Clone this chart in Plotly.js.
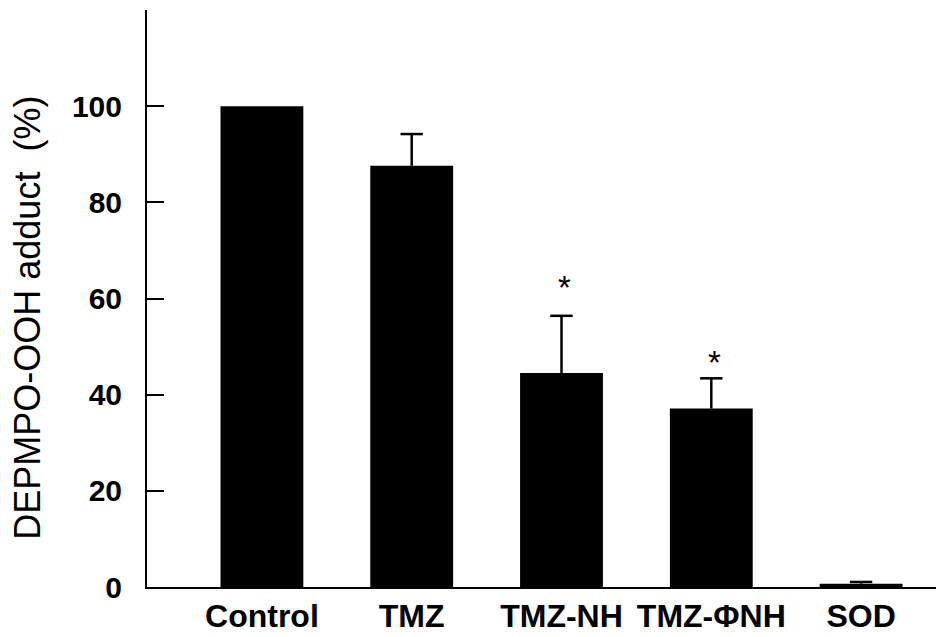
<!DOCTYPE html>
<html>
<head>
<meta charset="utf-8">
<script src="https://cdn.plot.ly/plotly-3.0.1.min.js"></script>
<style>html,body{margin:0;padding:0;background:#fff;}#chart{width:936px;height:637px;}</style>
</head>
<body>
<div id="chart"></div>
<script>
const categories = ['Control', 'TMZ', 'TMZ-NH', 'TMZ-\u03A6NH', 'SOD'];
const values = [100, 87.6, 44.5, 37.1, 0.7];
const errors = [NaN, 6.6, 11.9, 6.3, 0.35];
const yTicks = [0, 20, 40, 60, 80, 100];
const significance = [
  {category: 'TMZ-NH', y: 62.2, text: '*'},
  {category: 'TMZ-\u03A6NH', y: 46.6, text: '*'}
];
const yTitle = 'DEPMPO-OOH adduct\u00A0\u00A0(%)';

const FONT = '"Liberation Sans", Arial, Helvetica, sans-serif';

const barTrace = {
  type: 'bar',
  x: categories,
  y: values,
  width: 0.553,
  marker: {color: '#000000', line: {width: 0}},
  error_y: {
    type: 'data',
    symmetric: false,
    array: errors,
    arrayminus: errors.map(() => 0),
    color: '#000000',
    thickness: 2.5,
    width: 0
  },
  hoverinfo: 'skip'
};

// caps of the error bars, placed at value + error through the y axis
const capTrace = {
  type: 'scatter',
  mode: 'markers',
  x: categories,
  y: values.map((v, i) => v + errors[i]),
  marker: {symbol: 'line-ew-open', size: 16, color: '#000', line: {color: '#000', width: 2.5}},
  hoverinfo: 'skip',
  cliponaxis: false
};

const annotations = significance.map(s => ({
  x: s.category, y: s.y, xref: 'x', yref: 'y',
  text: s.text, showarrow: false, xshift: 3,
  font: {family: FONT, size: 33, color: '#000'},
  xanchor: 'center', yanchor: 'middle'
}));
annotations.push({
  xref: 'paper', yref: 'paper', x: 0, y: 0.4667, xshift: -119,
  text: yTitle, showarrow: false, textangle: -90,
  font: {family: FONT, size: 36, color: '#000'},
  xanchor: 'center', yanchor: 'middle'
});

const layout = {
  width: 936, height: 637,
  margin: {l: 147, r: 0, t: 10, b: 50, pad: 0},
  paper_bgcolor: '#ffffff', plot_bgcolor: '#ffffff',
  showlegend: false,
  font: {family: FONT, color: '#000'},
  xaxis: {
    type: 'category',
    range: [-0.767, 4.5],
    showline: true, linecolor: '#000', linewidth: 2,
    ticks: '', showgrid: false, zeroline: false,
    tickfont: {family: FONT, size: 32, color: '#000', weight: 'bold'},
    fixedrange: true
  },
  yaxis: {
    range: [0, 120],
    tickvals: yTicks,
    ticktext: yTicks.map(String),
    showline: true, linecolor: '#000', linewidth: 2,
    ticks: 'inside', ticklen: 17, tickwidth: 2, tickcolor: '#000',
    showgrid: false, zeroline: false,
    tickfont: {family: FONT, size: 30, color: '#000', weight: 'bold'},
    ticklabelstandoff: 17,
    fixedrange: true
  },
  annotations: annotations
};

Plotly.newPlot('chart', [barTrace, capTrace], layout, {displayModeBar: false, staticPlot: true});
</script>
</body>
</html>
